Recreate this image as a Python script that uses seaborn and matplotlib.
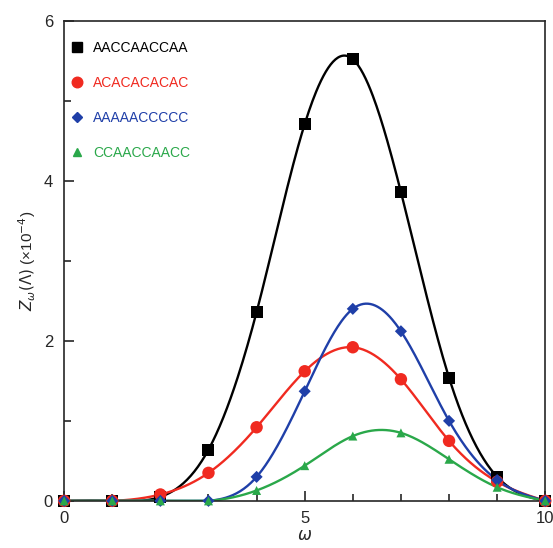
import numpy as np
import pandas as pd
import seaborn as sns
import matplotlib.pyplot as plt
from matplotlib.lines import Line2D
from matplotlib.ticker import MultipleLocator

omega = [0, 1, 2, 3, 4, 5, 6, 7, 8, 9, 10]
aaccaaccaa = [0, 0, 0.05, 0.64, 2.36, 4.71, 5.52, 3.86, 1.54, 0.30, 0]
acacacacac = [0, 0, 0.08, 0.35, 0.92, 1.62, 1.92, 1.52, 0.75, 0.24, 0]
aaaaaccccc = [0, 0, 0, 0, 0.30, 1.37, 2.40, 2.12, 1.00, 0.26, 0]
ccaaccaacc = [0, 0, 0, 0, 0.13, 0.44, 0.81, 0.85, 0.52, 0.17, 0]

names = ['AACCAACCAA', 'ACACACACAC', 'AAAAACCCCC', 'CCAACCAACC']
colors = ['black', '#f02a20', '#1f3fa8', '#2aa84a']
markers = ['s', 'o', 'D', '^']
msizes = [75, 80, 38, 42]


def natural_spline(x, y, n=400):
    # plain natural cubic spline, only used to draw the smooth line
    x = np.asarray(x, float)
    y = np.asarray(y, float)
    h = np.diff(x)
    k = len(x)
    A = np.zeros((k, k))
    b = np.zeros(k)
    A[0, 0] = A[-1, -1] = 1
    for i in range(1, k - 1):
        A[i, i - 1] = h[i - 1]
        A[i, i] = 2 * (h[i - 1] + h[i])
        A[i, i + 1] = h[i]
        b[i] = 6 * ((y[i + 1] - y[i]) / h[i] - (y[i] - y[i - 1]) / h[i - 1])
    m = np.linalg.solve(A, b)
    xs = np.linspace(x[0], x[-1], n)
    idx = np.clip(np.searchsorted(x, xs) - 1, 0, k - 2)
    t = xs - x[idx]
    hi = h[idx]
    a = (m[idx + 1] - m[idx]) / (6 * hi)
    c2 = m[idx] / 2
    c1 = (y[idx + 1] - y[idx]) / hi - hi * (2 * m[idx] + m[idx + 1]) / 6
    ys = y[idx] + c1 * t + c2 * t ** 2 + a * t ** 3
    return xs, np.clip(ys, 0, None)


sns.set_style('ticks')
plt.rcParams['font.family'] = ['Liberation Sans', 'DejaVu Sans']

fig = plt.figure(figsize=(5.53, 5.48), dpi=100)
ax = fig.add_axes([0.116, 0.086, 0.870, 0.876])

series = [aaccaaccaa, acacacacac, aaaaaccccc, ccaaccaacc]
handles = []
for vals, name, col, mk, ms in zip(series, names, colors, markers, msizes):
    xs, ys = natural_spline(omega, vals)
    sns.lineplot(x=xs, y=ys, color=col, lw=1.7, ax=ax)
    pts = pd.DataFrame({'omega': omega, 'z': vals})
    sns.scatterplot(data=pts, x='omega', y='z', color=col, marker=mk, s=ms,
                    edgecolor='none', ax=ax, zorder=3, clip_on=False)
    handles.append(Line2D([], [], ls='none', marker=mk, color=col,
                          markersize=np.sqrt(ms) * 0.85))

leg = ax.legend(handles, names, loc='upper left', frameon=False, fontsize=10,
                handlelength=0.8, handletextpad=0.78, labelspacing=1.5,
                borderpad=0.3, borderaxespad=0.2,
                bbox_to_anchor=(0.0, 0.972))
for txt, col in zip(leg.get_texts(), colors):
    txt.set_color(col)

ax.set_xlim(0, 10)
ax.set_ylim(0, 6)
ax.xaxis.set_major_locator(MultipleLocator(5))
ax.xaxis.set_minor_locator(MultipleLocator(1))
ax.yaxis.set_major_locator(MultipleLocator(2))
ax.yaxis.set_minor_locator(MultipleLocator(1))
ax.tick_params(which='both', direction='in', labelsize=12, width=1.2)
ax.tick_params(which='major', length=7)
ax.tick_params(which='minor', length=5)
ax.tick_params(axis='x', which='major', pad=7)
ax.tick_params(axis='y', which='major', pad=8)
for sp in ax.spines.values():
    sp.set_linewidth(1.2)
    sp.set_visible(True)

ax.set_xlabel(r'$\omega$', fontsize=12, labelpad=2)
ax.set_ylabel(r'$Z_\omega(\Lambda)$ (×10$^{-4}$)', fontsize=11, labelpad=4)

fig.savefig('out.png', dpi=100)
